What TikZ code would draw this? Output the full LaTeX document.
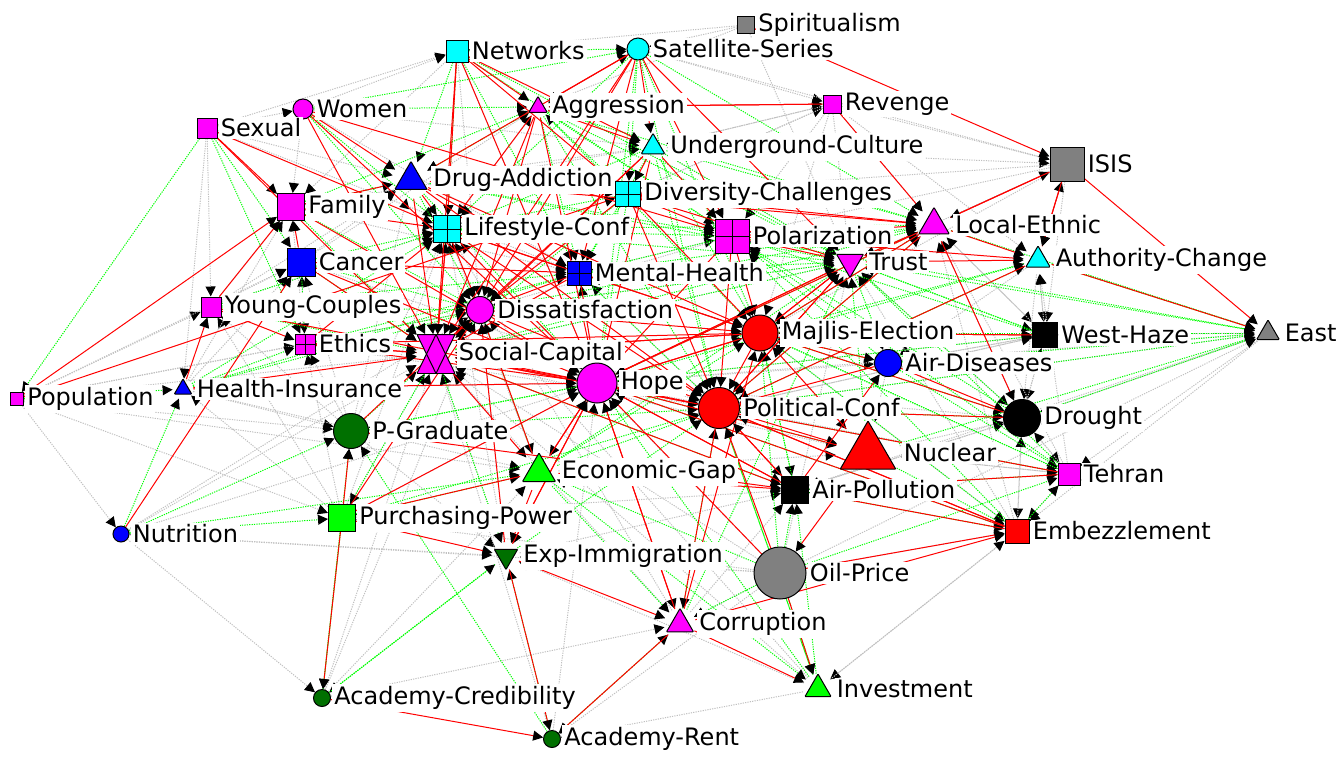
\documentclass[tikz,border=0pt]{standalone}
\usepackage{fontspec}
\setmainfont{DejaVu Sans}
\usetikzlibrary{arrows.meta,calc}
\pgfdeclarelayer{edges}
\pgfsetlayers{edges,main}
\definecolor{nmag}{RGB}{255,0,255}
\definecolor{ncyan}{RGB}{0,255,255}
\definecolor{nblue}{RGB}{0,0,255}
\definecolor{nred}{RGB}{255,0,0}
\definecolor{ngray}{RGB}{128,128,128}
\definecolor{nlime}{RGB}{0,255,0}
\definecolor{ndkgreen}{RGB}{0,112,0}
\definecolor{egray}{RGB}{192,192,192}

\begin{document}
\begin{tikzpicture}[x=0.5pt, y=-0.5pt,
        sq/.style={rectangle, draw, line width=0.5pt, inner sep=0pt, minimum size=#1},
        circ/.style={circle, draw, line width=0.5pt, inner sep=0pt, minimum size=#1},
        gridsq/.style={sq=#1, path picture={\draw[line width=0.5pt] (path picture bounding box.north) -- (path picture bounding box.south) (path picture bounding box.west) -- (path picture bounding box.east);}},
        tri/.style 2 args={circle, inner sep=0pt, minimum size=#1, path picture={
            \draw[line width=0.5pt, fill=#2] (path picture bounding box.north)
                -- ($(path picture bounding box.center)!1!120:(path picture bounding box.north)$)
                -- ($(path picture bounding box.center)!1!-120:(path picture bounding box.north)$) -- cycle;}},
        tridown/.style 2 args={circle, inner sep=0pt, minimum size=#1, path picture={
            \draw[line width=0.5pt, fill=#2] (path picture bounding box.south)
                -- ($(path picture bounding box.center)!1!120:(path picture bounding box.south)$)
                -- ($(path picture bounding box.center)!1!-120:(path picture bounding box.south)$) -- cycle;}},
        hourglass/.style={rectangle, inner sep=0pt, minimum width=19pt, minimum height=19.5pt, path picture={
            \fill[nmag] (path picture bounding box.north west) -- (path picture bounding box.north east) -- (path picture bounding box.south) -- cycle;
            \fill[nmag] (path picture bounding box.south west) -- (path picture bounding box.south east) -- (path picture bounding box.north) -- cycle;
            \draw[line width=0.5pt] (path picture bounding box.north west) -- (path picture bounding box.north east) -- (path picture bounding box.south) -- cycle;
            \draw[line width=0.5pt] (path picture bounding box.south west) -- (path picture bounding box.south east) -- (path picture bounding box.north) -- cycle;}},
        lbl/.style={fill=white, inner sep=1pt, font=\fontsize{12}{14}\selectfont},
        label distance=0.5pt,
        link/.style={line width=0.5pt, -{Triangle[length=5pt, width=5pt, color=black]}},
        redge/.style={link, draw=nred},
        gedge/.style={link, draw=nlime, dash pattern=on 0.6pt off 0.6pt},
        yedge/.style={link, draw=egray, dash pattern=on 0.6pt off 0.6pt}
    ]
        \useasboundingbox (0,0) rectangle (1338,756);

        % Top row
        \node[sq=8.5pt, fill=ngray, label={[lbl]right:Spiritualism}] (spirit) at (746,25) {};
        \node[sq=11pt, fill=ncyan, label={[lbl]right:Networks}] (networks) at (457,51) {};
        \node[circ=11pt, fill=ncyan, label={[lbl]right:Satellite-Series}] (satellite) at (638,49) {};
        \node[circ=10pt, fill=nmag, label={[lbl]right:Women}] (women) at (303,109) {};
        \node[tri={10.5pt}{nmag}, label={[lbl]right:Aggression}] (aggression) at (538,107) {};
        \node[sq=9pt, fill=nmag, label={[lbl]right:Revenge}] (revenge) at (832,104) {};
        \node[sq=10pt, fill=nmag, label={[lbl]right:Sexual}] (sexual) at (207,128) {};
        \node[tri={13.5pt}{ncyan}, label={[lbl]right:Underground-Culture}] (underground) at (653,147) {};
        \node[sq=17pt, fill=ngray, label={[lbl]right:ISIS}] (isis) at (1067,164) {};

        % Upper middle
        \node[tri={18.5pt}{nblue}, label={[lbl]right:Drug-Addiction}] (drug) at (411,180) {};
        \node[gridsq=12.5pt, fill=ncyan, label={[lbl]right:Diversity-Challenges}] (diversity) at (628,194) {};
        \node[sq=13.5pt, fill=nmag, label={[lbl]right:Family}] (family) at (291,207) {};
        \node[tri={17.5pt}{nmag}, label={[lbl]right:Local-Ethnic}] (localeth) at (934,225) {};
        \node[gridsq=13.5pt, fill=ncyan, label={[lbl]right:Lifestyle-Conf}] (lifestyle) at (447,229) {};
        \node[gridsq=17pt, fill=nmag, label={[lbl]right:Polarization}] (polar) at (732,236) {};
        \node[sq=14pt, fill=nblue, label={[lbl]right:Cancer}] (cancer) at (301,262) {};
        \node[gridsq=12pt, fill=nblue, label={[lbl]right:Mental-Health}] (mental) at (579,273) {};
        \node[tridown={15.5pt}{nmag}, label={[lbl]right:Trust}] (trust) at (850,262) {};
        \node[tri={14pt}{ncyan}, label={[lbl]right:Authority-Change}] (authority) at (1038,260) {};

        % Middle
        \node[sq=10pt, fill=nmag, label={[lbl]right:Young-Couples}] (young) at (211,307) {};
        \node[circ=13.5pt, fill=nmag, label={[lbl]right:Dissatisfaction}] (dissat) at (480,310) {};
        \node[circ=18pt, fill=nred, label={[lbl]right:Majlis-Election}] (majlis) at (760,333) {};
        \node[sq=12.5pt, fill=black, label={[lbl]right:West-Haze}] (westhaze) at (1045,335) {};
        \node[tri={13pt}{ngray}, label={[lbl]right:East}] (east) at (1268,333) {};
        \node[gridsq=10pt, fill=nmag, label={[lbl]right:Ethics}] (ethics) at (305,344) {};
        \node[hourglass, label={[lbl]right:Social-Capital}] (social) at (436,354) {};
        \node[circ=13.5pt, fill=nblue, label={[lbl]right:Air-Diseases}] (airdis) at (888,363) {};
        \node[sq=6.5pt, fill=nmag, label={[lbl]right:Population}] (population) at (17,399) {};
        \node[tri={10pt}{nblue}, label={[lbl]right:Health-Insurance}] (healthins) at (183,389) {};
        \node[circ=20pt, fill=nmag, label={[lbl]right:Hope}] (hope) at (597,383) {};
        \node[circ=20.5pt, fill=nred, label={[lbl]right:Political-Conf}] (polconf) at (719,408) {};
        \node[circ=18.5pt, fill=black, label={[lbl]right:Drought}] (drought) at (1022,418) {};

        % Lower middle
        \node[circ=17.5pt, fill=ndkgreen, label={[lbl]right:P-Graduate}] (pgrad) at (351,431) {};
        \node[tri={32pt}{nred}, label={[lbl]right:Nuclear}] (nuclear) at (868,453) {};
        \node[tri={19pt}{nlime}, label={[lbl]right:Economic-Gap}] (econgap) at (539,472) {};
        \node[sq=11pt, fill=nmag, label={[lbl]right:Tehran}] (tehran) at (1069,474) {};
        \node[sq=13.5pt, fill=black, label={[lbl]right:Air-Pollution}] (airpol) at (795,490) {};
        \node[sq=13.5pt, fill=nlime, label={[lbl]right:Purchasing-Power}] (purchasing) at (342,518) {};
        \node[sq=12pt, fill=nred, label={[lbl]right:Embezzlement}] (embezz) at (1017,531) {};
        \node[circ=8pt, fill=nblue, label={[lbl]right:Nutrition}] (nutrition) at (121,534) {};

        % Bottom
        \node[tridown={13.5pt}{ndkgreen}, label={[lbl]right:Exp-Immigration}] (expimm) at (506,556) {};
        \node[circ=26pt, fill=ngray, label={[lbl]right:Oil-Price}] (oilprice) at (780,573) {};
        \node[tri={15.5pt}{nmag}, label={[lbl]right:Corruption}] (corruption) at (680,624) {};
        \node[tri={15pt}{nlime}, label={[lbl]right:Investment}] (investment) at (818,689) {};
        \node[circ=8.5pt, fill=ndkgreen, label={[lbl]right:Academy-Credibility}] (acadcred) at (322,698) {};
        \node[circ=8.5pt, fill=ndkgreen, label={[lbl]right:Academy-Rent}] (acadrent) at (552,739) {};

        \begin{pgfonlayer}{edges}
        % Weak links
        \foreach \a/\b in {population/nutrition, population/pgrad, population/purchasing, population/econgap, population/young, population/cancer,
            oilprice/nutrition, nutrition/expimm, nutrition/acadcred, sexual/women, women/networks, sexual/networks, sexual/young, sexual/healthins,
            sexual/drug, sexual/mental, women/family, women/mental, women/underground, spirit/networks, networks/family, networks/hope,
            satellite/revenge, satellite/isis, revenge/isis, revenge/localeth, revenge/authority, revenge/trust, revenge/polar,
            underground/isis, underground/revenge, isis/authority, isis/trust, isis/westhaze, isis/polar, isis/majlis, authority/westhaze,
            westhaze/authority, westhaze/east, westhaze/airdis, westhaze/drought, westhaze/polconf, east/drought, east/tehran, east/embezz,
            east/airpol, oilprice/east, drought/tehran, drought/embezz, drought/airpol, tehran/embezz, tehran/nuclear, embezz/investment,
            oilprice/embezz, investment/acadrent, investment/expimm, oilprice/corruption, oilprice/purchasing, acadcred/corruption,
            acadcred/econgap, oilprice/acadrent, purchasing/healthins, purchasing/young, purchasing/ethics, purchasing/hope, purchasing/airpol,
            pgrad/ethics, pgrad/young, pgrad/cancer, pgrad/expimm, healthins/pgrad, healthins/econgap, healthins/hope, young/cancer,
            young/family, ethics/family, ethics/cancer, cancer/drug, family/mental, drug/underground, drug/diversity,
            diversity/revenge, lifestyle/aggression, social/trust, dissat/trust, mental/polar, hope/airdis, hope/drought, majlis/nuclear,
            polconf/westhaze, airdis/nuclear, nuclear/drought, econgap/nuclear, expimm/airpol, oilprice/expimm, social/nuclear,
            ethics/polconf, cancer/polconf, trust/drought, localeth/westhaze, authority/drought, authority/airdis, aggression/satellite,
            underground/trust, hope/tehran, majlis/embezz, spirit/satellite, spirit/trust, spirit/aggression, revenge/underground,
            revenge/diversity, revenge/majlis, isis/diversity, east/polconf, east/hope, westhaze/hope, westhaze/localeth, drought/localeth,
            tehran/localeth, tehran/authority, embezz/localeth, embezz/trust, oilprice/trust, oilprice/social, oilprice/lifestyle,
            investment/social, investment/dissat, corruption/social, corruption/lifestyle, acadrent/social, acadrent/hope, acadcred/social,
            acadcred/dissat, nutrition/social, nutrition/dissat, nutrition/hope, population/social, population/ethics, population/dissat,
            healthins/family, healthins/cancer, young/drug, young/lifestyle, pgrad/lifestyle, pgrad/drug, purchasing/lifestyle,
            purchasing/social, econgap/lifestyle, econgap/social, expimm/social, expimm/lifestyle, expimm/dissat, family/underground,
            cancer/aggression, networks/dissat, polar/dissat, airdis/westhaze, drought/westhaze, tehran/drought, embezz/drought,
            nuclear/tehran, airpol/drought, investment/embezz, corruption/airpol, hope/mental, majlis/mental, polconf/mental}
            \draw[yedge] (\a) -- (\b);
        % Positive links
        \foreach \a/\b in {sexual/population, population/healthins, nutrition/healthins, nutrition/pgrad, nutrition/econgap, nutrition/purchasing,
            sexual/cancer, sexual/ethics, women/lifestyle, women/dissat, women/aggression, networks/drug, networks/satellite, networks/lifestyle,
            networks/polar, networks/mental, satellite/diversity, satellite/lifestyle, satellite/localeth, satellite/hope, aggression/drug,
            aggression/polar, aggression/mental, aggression/trust, underground/lifestyle, underground/mental, underground/localeth,
            underground/majlis, drug/dissat, drug/hope, drug/family, diversity/mental, diversity/hope, diversity/social, family/social,
            family/dissat, cancer/lifestyle, cancer/ethics, cancer/social, lifestyle/polar, lifestyle/trust, polar/mental, polar/east,
            trust/east, trust/westhaze, trust/airdis, localeth/east, localeth/trust, authority/majlis, majlis/east, majlis/drought,
            majlis/tehran, polconf/east, polconf/tehran, polconf/drought, airdis/east, airdis/tehran, drought/east, nuclear/east,
            nuclear/embezz, airpol/embezz, airpol/tehran, hope/nuclear, hope/embezz, econgap/polconf, oilprice/econgap, econgap/investment,
            purchasing/econgap, pgrad/hope, pgrad/social, healthins/ethics, healthins/dissat, young/dissat, young/social, ethics/dissat,
            social/expimm, social/purchasing, expimm/acadcred, acadcred/expimm, oilprice/corruption, oilprice/investment, investment/airpol,
            acadrent/expimm, oilprice/airpol, oilprice/tehran, embezz/tehran, hope/pgrad, dissat/econgap, mental/trust, majlis/airpol,
            polconf/investment, corruption/polconf, purchasing/acadcred, econgap/corruption, authority/east,
            young/lifestyle, young/mental, ethics/mental, healthins/lifestyle, healthins/mental, cancer/dissat, family/aggression,
            women/satellite, networks/trust, satellite/polconf, satellite/majlis, aggression/localeth, aggression/polconf, aggression/majlis,
            underground/trust, underground/polconf, drug/trust, drug/polar, diversity/lifestyle, diversity/aggression, lifestyle/localeth,
            mental/localeth, mental/polconf, dissat/trust, dissat/localeth, social/trust, social/localeth, hope/localeth, hope/authority,
            hope/westhaze, polconf/localeth, polconf/authority, majlis/localeth, airdis/majlis, drought/trust, westhaze/trust, tehran/trust,
            tehran/majlis, embezz/majlis, airpol/majlis, nuclear/trust, econgap/majlis, econgap/trust, oilprice/majlis, corruption/trust,
            investment/polconf, purchasing/polconf, pgrad/polconf, expimm/polconf, acadcred/pgrad, acadrent/pgrad, acadrent/corruption,
            airdis/polar, drought/polar, westhaze/polar, tehran/polar, embezz/polar, airpol/social, investment/hope}
            \draw[gedge] (\a) -- (\b);
        % Negative links
        \foreach \a/\b in {population/family, population/diversity, nutrition/cancer, healthins/young, sexual/family, sexual/lifestyle,
            women/drug, women/polar, cancer/family, young/family, networks/aggression, networks/lifestyle, networks/underground,
            networks/diversity, satellite/aggression, satellite/underground, satellite/polar, satellite/trust, satellite/drug,
            satellite/mental, aggression/underground, aggression/lifestyle, aggression/dissat, aggression/revenge, underground/diversity,
            underground/social, underground/polar, drug/lifestyle, drug/social, drug/mental, drug/localeth, diversity/polar,
            diversity/trust, diversity/localeth, lifestyle/dissat, lifestyle/social, lifestyle/mental, lifestyle/hope, lifestyle/polconf,
            polar/trust, polar/majlis, polar/polconf, polar/hope, polar/localeth, polar/authority, mental/hope, mental/dissat,
            mental/social, mental/majlis, trust/majlis, trust/hope, trust/polconf, trust/authority, trust/localeth, localeth/isis,
            localeth/drought, localeth/authority, authority/isis, authority/east, isis/east, spirit/isis, dissat/social, dissat/hope,
            dissat/majlis, dissat/polconf, social/hope, social/ethics, social/polconf, social/econgap, social/majlis, ethics/hope,
            hope/polconf, hope/majlis, hope/econgap, hope/airpol, hope/corruption, hope/expimm, majlis/polconf, majlis/westhaze,
            majlis/airdis, polconf/nuclear, polconf/airpol, polconf/embezz, polconf/corruption, nuclear/oilprice, airdis/drought,
            airpol/airdis, econgap/airpol, econgap/purchasing, econgap/expimm, purchasing/pgrad, purchasing/acadcred, pgrad/airpol,
            expimm/acadrent, acadcred/acadrent, corruption/acadrent, corruption/embezz, corruption/investment, oilprice/embezz,
            oilprice/investment, embezz/airpol, tehran/airpol, drought/polconf, westhaze/majlis, expimm/corruption, hope/trust,
            social/lifestyle, family/lifestyle, cancer/mental, young/ethics, healthins/social, family/drug, social/dissat, majlis/hope,
            social/airpol, ethics/lifestyle, healthins/hope, purchasing/expimm,
            networks/social, networks/hope, women/social, women/hope, sexual/social, family/hope, cancer/social, cancer/hope, young/hope,
            ethics/social, ethics/majlis, drug/polconf, drug/majlis, diversity/majlis, diversity/polconf, diversity/dissat, lifestyle/majlis,
            localeth/polconf, localeth/majlis, localeth/hope, authority/polconf, airdis/polconf, drought/majlis, nuclear/majlis, nuclear/hope,
            tehran/polconf, embezz/polconf, embezz/hope, corruption/hope, corruption/majlis, oilprice/polconf, oilprice/hope,
            econgap/hope, econgap/dissat, purchasing/hope, purchasing/dissat, pgrad/dissat, expimm/hope, expimm/dissat, airpol/polconf,
            airpol/hope, majlis/trust, polconf/trust, polconf/social, majlis/social, satellite/social, satellite/dissat, aggression/social,
            aggression/hope, underground/hope, underground/dissat, revenge/aggression, revenge/localeth, isis/localeth, isis/authority}
            \draw[redge] (\a) -- (\b);
        \end{pgfonlayer}
    \end{tikzpicture}
\end{document}
